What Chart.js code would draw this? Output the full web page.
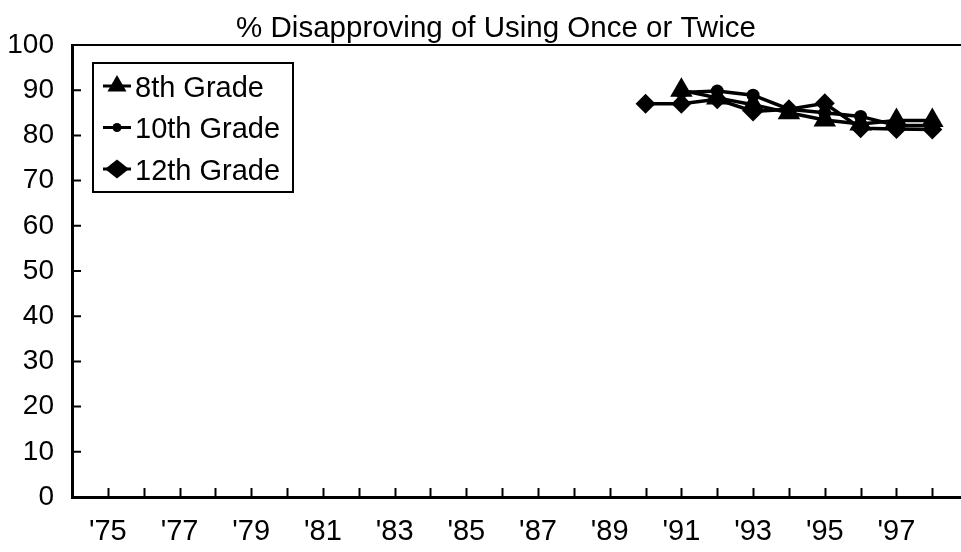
<!doctype html>
<html lang="en">
  <head>
    <title>% Disapproving of Using Once or Twice</title>
    <script src="https://cdn.jsdelivr.net/npm/chart.js@4/dist/chart.umd.min.js"></script>
    <style>
      body { margin: 0; background: #fff; }
      #wrap { width: 961px; height: 552px; }
    </style>
  </head>
  <body>
    <div id="wrap"><canvas id="myChart"></canvas></div>
    <script>
      const years = [1975, 1976, 1977, 1978, 1979, 1980, 1981, 1982, 1983, 1984, 1985, 1986,
                     1987, 1988, 1989, 1990, 1991, 1992, 1993, 1994, 1995, 1996, 1997, 1998];
      const yearLabels = ["'75", '', "'77", '', "'79", '', "'81", '', "'83", '', "'85", '',
                          "'87", '', "'89", '', "'91", '', "'93", '', "'95", '', "'97", ''];
      const grade8 = [null, null, null, null, null, null, null, null, null, null, null, null,
                      null, null, null, null, 90.0, 88.3, 86.8, 85.0, 83.4, 82.5, 83.3, 83.3];
      const grade10 = [null, null, null, null, null, null, null, null, null, null, null, null,
                       null, null, null, null, 89.5, 89.8, 88.9, 85.8, 85.0, 84.2, 82.2, 82.2];
      const grade12 = [null, null, null, null, null, null, null, null, null, null, null, null,
                       null, null, null, 87.0, 87.0, 88.0, 85.3, 85.8, 87.1, 81.6, 81.4, 81.3];
      const seriesNames = ['8th Grade', '10th Grade', '12th Grade'];
      const titleText = '% Disapproving of Using Once or Twice';

      const FONT = '"Liberation Sans", Arial, sans-serif';
      const toPoints = arr => years.map((yr, i) => ({ x: yr, y: arr[i] }));

      function marker(ctx, style, r, x, y) {
        ctx.beginPath();
        if (style === 'triangle') {
          ctx.moveTo(x, y - r);
          ctx.lineTo(x + r * 0.866, y + r * 0.5);
          ctx.lineTo(x - r * 0.866, y + r * 0.5);
        } else if (style === 'rectRot') {
          ctx.moveTo(x - r, y);
          ctx.lineTo(x, y - r * 0.8);
          ctx.lineTo(x + r, y);
          ctx.lineTo(x, y + r * 0.8);
        } else {
          ctx.arc(x, y, r, 0, Math.PI * 2);
        }
        ctx.closePath();
        ctx.fill();
      }

      // ticks point inward, top frame line, title and boxed legend
      const frame = {
        id: 'frame',
        beforeDatasetsDraw(chart) {
          const { ctx, chartArea: a, scales: { x, y } } = chart;
          ctx.save();
          ctx.strokeStyle = '#000';
          ctx.lineWidth = 2;
          ctx.beginPath();
          ctx.moveTo(a.left, a.top);
          ctx.lineTo(a.right, a.top);
          years.forEach(v => {
            const px = Math.round(x.getPixelForValue(v)) + 0.5;
            ctx.moveTo(px, a.bottom);
            ctx.lineTo(px, a.bottom - 9);
          });
          y.ticks.forEach(t => {
            const py = y.getPixelForValue(t.value);
            ctx.moveTo(a.left, py);
            ctx.lineTo(a.left + 9, py);
          });
          ctx.stroke();
          ctx.restore();
        },
        afterDraw(chart) {
          const { ctx } = chart;
          ctx.save();
          ctx.fillStyle = '#000';
          ctx.font = '29.5px ' + FONT;
          ctx.textAlign = 'center';
          ctx.textBaseline = 'alphabetic';
          ctx.fillText(titleText, 496, 37);

          // legend box
          ctx.fillStyle = '#fff';
          ctx.fillRect(93, 63, 200, 129);
          ctx.strokeStyle = '#000';
          ctx.lineWidth = 2;
          ctx.strokeRect(93, 63, 200, 129);
          const rows = [86, 127.5, 169];
          const styles = [['triangle', 11], ['circle', 4.5], ['rectRot', 12]];
          ctx.font = '29px ' + FONT;
          ctx.textAlign = 'left';
          rows.forEach((ry, i) => {
            ctx.fillStyle = '#000';
            ctx.lineWidth = 3;
            ctx.beginPath();
            ctx.moveTo(103, ry);
            ctx.lineTo(131, ry);
            ctx.stroke();
            marker(ctx, styles[i][0], styles[i][1], 117, ry);
            ctx.fillText(seriesNames[i], 135, ry + 10.5);
          });
          ctx.restore();
        }
      };

      const common = { borderColor: '#000', backgroundColor: '#000', borderWidth: 3.5,
                       pointBackgroundColor: '#000', pointBorderWidth: 0, tension: 0 };

      new Chart(document.getElementById('myChart'), {
        type: 'line',
        data: {
          datasets: [
            { ...common, label: seriesNames[0], data: toPoints(grade8), pointStyle: 'triangle', pointRadius: 13 },
            { ...common, label: seriesNames[1], data: toPoints(grade10), pointStyle: 'circle', pointRadius: 6.5 },
            { ...common, label: seriesNames[2], data: toPoints(grade12), pointStyle: 'rectRot', pointRadius: 10 }
          ]
        },
        options: {
          responsive: true,
          maintainAspectRatio: false,
          animation: false,
          layout: { autoPadding: false, padding: { top: 45, right: 0, left: 0, bottom: 0 } },
          plugins: { legend: { display: false }, title: { display: false }, tooltip: { enabled: false } },
          scales: {
            x: {
              type: 'linear',
              min: 1974,
              max: 1998.8,
              afterFit: s => { s.height = 55; s.paddingRight = 0; s.paddingLeft = 0; },
              afterBuildTicks: s => { s.ticks = years.map(v => ({ value: v })); },
              grid: { display: false, drawTicks: false },
              border: { display: true, color: '#000', width: 3 },
              ticks: {
                autoSkip: false,
                maxRotation: 0,
                padding: 18,
                color: '#000',
                font: { family: FONT, size: 29 },
                callback: v => yearLabels[years.indexOf(v)] ?? ''
              }
            },
            y: {
              min: 0,
              max: 100,
              afterFit: s => { s.width = 72; s.paddingTop = 0; s.paddingBottom = 0; },
              grid: { display: false, drawTicks: false },
              border: { display: true, color: '#000', width: 3 },
              ticks: {
                stepSize: 10,
                padding: 18,
                color: '#000',
                font: { family: FONT, size: 28 }
              }
            }
          }
        },
        plugins: [frame]
      });
    </script>
  </body>
</html>
